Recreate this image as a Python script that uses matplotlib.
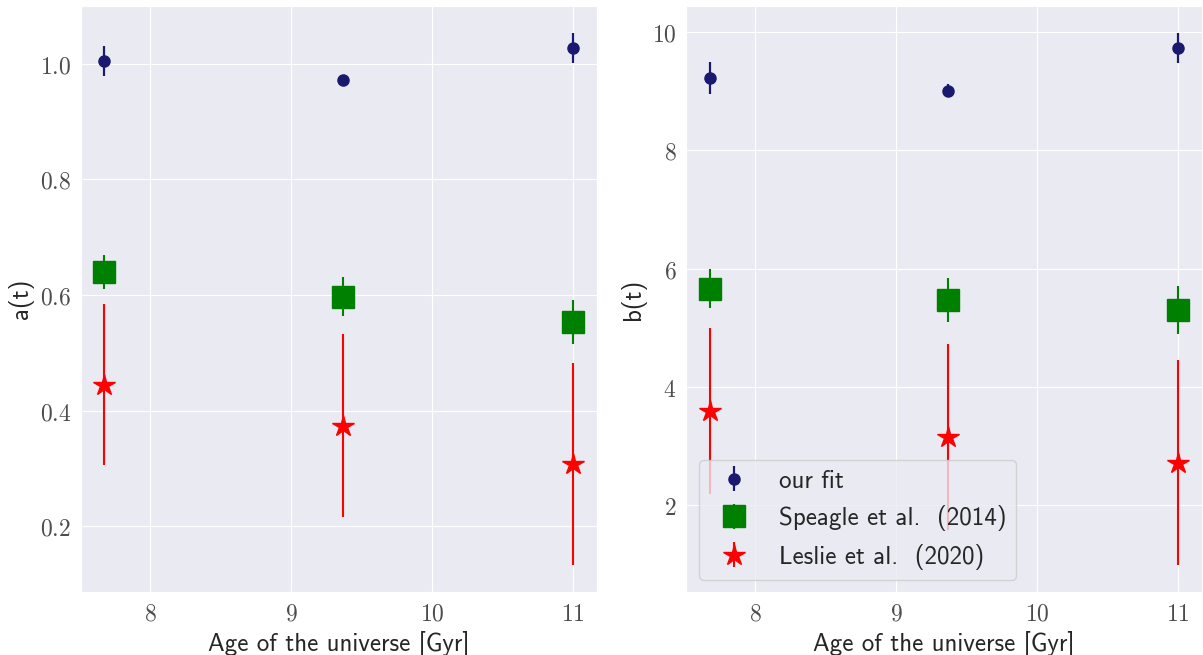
import matplotlib
matplotlib.use("Agg")
import matplotlib.pyplot as plt
import seaborn as sns
from matplotlib.ticker import FuncFormatter

sns.set_style("darkgrid")
plt.rcParams['mathtext.fontset'] = 'cm'

# age of the universe at each redshift bin [Gyr]
age = [7.675, 9.367, 11.0]

# slope a(t)
a_fit = [1.005, 0.972, 1.028]
a_fit_err = [0.026, 0.004, 0.026]
a_speagle = [0.640, 0.597, 0.553]
a_speagle_err = [0.030, 0.034, 0.038]
a_leslie = [0.445, 0.374, 0.307]
a_leslie_err = [0.140, 0.158, 0.175]

# normalisation b(t)
b_fit = [9.225, 9.006, 9.730]
b_fit_err = [0.27, 0.11, 0.26]
b_speagle = [5.66, 5.476, 5.30]
b_speagle_err = [0.33, 0.37, 0.40]
b_leslie = [3.60, 3.16, 2.72]
b_leslie_err = [1.40, 1.575, 1.735]

labels = ["our fit", "Speagle et al.  (2014)", "Leslie et al.  (2020)"]
sans = 'cmss10'
fs = 18


def draw_panel(ax, fit, fit_err, spe, spe_err, les, les_err, ylabel, fmt):
    ax.errorbar(age, fit, yerr=fit_err, fmt='o', color='midnightblue',
                markersize=8, elinewidth=1.6, label=labels[0])
    ax.errorbar(age, spe, yerr=spe_err, fmt='s', color='green',
                markersize=16, elinewidth=1.5, label=labels[1])
    ax.errorbar(age, les, yerr=les_err, fmt='*', color='red',
                markersize=16, elinewidth=1.5, label=labels[2])
    ax.set_xlabel("Age of the universe [Gyr]", family=sans, fontsize=fs)
    ax.set_ylabel(ylabel, family=sans, fontsize=fs)
    ax.xaxis.set_major_formatter(FuncFormatter(lambda v, p: f'${v:g}$'))
    ax.yaxis.set_major_formatter(FuncFormatter(lambda v, p: fmt.format(v)))
    ax.tick_params(labelsize=17, labelcolor='0.3')


fig, (ax1, ax2) = plt.subplots(1, 2, figsize=(12.03, 6.55), dpi=100)
fig.subplots_adjust(left=0.0673, right=0.999, top=0.991, bottom=0.096, wspace=0.174)

draw_panel(ax1, a_fit, a_fit_err, a_speagle, a_speagle_err, a_leslie, a_leslie_err,
           "a(t)", '${:.1f}$')
draw_panel(ax2, b_fit, b_fit_err, b_speagle, b_speagle_err, b_leslie, b_leslie_err,
           "b(t)", '${:g}$')

ax2.legend(loc='lower left', prop={'family': sans, 'size': fs})

fig.savefig("out.png", dpi=100)
